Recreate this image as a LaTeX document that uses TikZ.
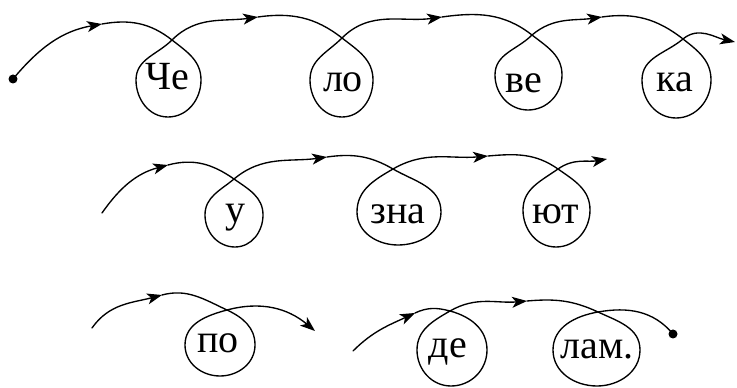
\documentclass[tikz,border=0pt]{standalone}
\usepackage{fontspec}
\setmainfont{Liberation Serif}
\usetikzlibrary{arrows.meta}
\begin{document}
\begin{tikzpicture}[x=1pt,y=1pt,
  line/.style={line width=1.35pt, line cap=round},
  arr/.style={line, -{Stealth[length=15pt,width=11pt,inset=4pt]}},
  syl/.style={inner sep=0pt, anchor=base, font=\fontsize{40}{44}\selectfont},
  enddot/.style={circle, fill, inner sep=0pt, minimum size=9pt}]
\useasboundingbox (0,0) rectangle (737,388);
% ---------- row 1 ----------
\node[enddot] (s0) at (13,309) {};
\coordinate (a1) at (102,364);
\coordinate (c1) at (172,348); \coordinate (r1) at (201,308); \coordinate (b1) at (168,271); \coordinate (l1) at (136,308);
\coordinate (a2) at (258,371);
\coordinate (c2) at (342,350); \coordinate (r2) at (373,308); \coordinate (b2) at (342,271); \coordinate (l2) at (310,308);
\coordinate (a3) at (442,371);
\coordinate (c3) at (532,353); \coordinate (r3) at (562,313); \coordinate (b3) at (528,278); \coordinate (l3) at (495,313);
\coordinate (a4) at (602,371);
\coordinate (c4) at (683,349); \coordinate (r4) at (711,308); \coordinate (b4) at (676,270); \coordinate (l4) at (642,308);
\coordinate (e1) at (735,346);
\node[syl] (t1) at (167,298) {Че};
\node[syl] (t2) at (343,296) {ло};
\node[syl] (t3) at (524,295) {ве};
\node[syl] (t4) at (675,296) {ка};
\draw[arr] (s0.center) to[out=50,in=190] (a1);
\draw[line] (a1) to[out=10,in=142] (c1) to[out=-38,in=90] (r1) to[out=-90,in=0] (b1) to[out=180,in=-90] (l1) to[out=90,in=-135] (c1);
\draw[arr] (c1) to[out=45,in=188] (a2);
\draw[line] (a2) to[out=8,in=142] (c2) to[out=-38,in=90] (r2) to[out=-90,in=0] (b2) to[out=180,in=-90] (l2) to[out=90,in=-135] (c2);
\draw[arr] (c2) to[out=45,in=188] (a3);
\draw[line] (a3) to[out=8,in=142] (c3) to[out=-38,in=90] (r3) to[out=-90,in=0] (b3) to[out=180,in=-90] (l3) to[out=90,in=-135] (c3);
\draw[arr] (c3) to[out=40,in=188] (a4);
\draw[line] (a4) to[out=8,in=142] (c4) to[out=-38,in=90] (r4) to[out=-90,in=0] (b4) to[out=180,in=-90] (l4) to[out=90,in=-140] (c4);
\draw[arr] (c4) to[out=40,in=168] (e1);
% ---------- row 2 ----------
\coordinate (s2) at (102,175);
\coordinate (a5) at (168,223);
\coordinate (c5) at (234,209); \coordinate (r5) at (263,173); \coordinate (b5) at (235,141); \coordinate (l5) at (205,173);
\coordinate (a6) at (327,231);
\coordinate (c6) at (393,219); \coordinate (r6) at (441,176); \coordinate (b6) at (398,143); \coordinate (l6) at (357,176);
\coordinate (a7) at (488,232);
\coordinate (c7) at (558,219); \coordinate (r7) at (590,178); \coordinate (b7) at (556,141); \coordinate (l7) at (523,178);
\coordinate (e2) at (607,229);
\node[syl] (t5) at (235,165) {у};
\node[syl] (t6) at (398,164) {зна};
\node[syl] (t7) at (556,164) {ют};
\draw[arr] (s2) to[out=55,in=195] (a5);
\draw[line] (a5) to[out=15,in=145] (c5) to[out=-35,in=90] (r5) to[out=-90,in=0] (b5) to[out=180,in=-90] (l5) to[out=90,in=-140] (c5);
\draw[arr] (c5) to[out=40,in=188] (a6);
\draw[line] (a6) to[out=8,in=150] (c6) to[out=-30,in=90] (r6) to[out=-90,in=0] (b6) to[out=180,in=-90] (l6) to[out=90,in=-150] (c6);
\draw[arr] (c6) to[out=30,in=185] (a7);
\draw[line] (a7) to[out=5,in=145] (c7) to[out=-35,in=90] (r7) to[out=-90,in=0] (b7) to[out=180,in=-90] (l7) to[out=90,in=-145] (c7);
\draw[arr] (c7) to[out=35,in=190] (e2);
% ---------- row 3 ----------
\coordinate (s3) at (92,60);
\coordinate (a8) at (162,93);
\coordinate (c8) at (227,78); \coordinate (r8) at (255,43); \coordinate (b8) at (220,12); \coordinate (l8) at (185,43);
\coordinate (e3) at (315,57);
\coordinate (s4) at (353,37);
\coordinate (a9) at (415,75);
\coordinate (c9) at (450,77); \coordinate (r9) at (487,38); \coordinate (b9) at (451,2); \coordinate (l9) at (417,38);
\coordinate (a10) at (527,87);
\coordinate (c10) at (598,76); \coordinate (r10) at (640,38); \coordinate (b10) at (597,2); \coordinate (l10) at (553,38);
\node[enddot] (d2) at (673,54) {};
\node[syl] (t8) at (218,35) {по};
\node[syl] (t9) at (448,30) {де};
\node[syl] (t10) at (597,29) {лам.};
\draw[arr] (s3) to[out=55,in=195] (a8);
\draw[line] (a8) to[out=15,in=155] (c8) to[out=-25,in=90] (r8) to[out=-90,in=0] (b8) to[out=180,in=-90] (l8) to[out=90,in=-165] (c8);
\draw[arr] (c8) to[out=15,in=140] (e3);
\draw[arr] (s4) to[out=45,in=205] (a9);
\draw[line] (a9) to[out=25,in=165] (c9) to[out=-15,in=90] (r9) to[out=-90,in=0] (b9) to[out=180,in=-90] (l9) to[out=90,in=-150] (c9);
\draw[arr] (c9) to[out=30,in=185] (a10);
\draw[line] (a10) to[out=5,in=155] (c10) to[out=-25,in=90] (r10) to[out=-90,in=0] (b10) to[out=180,in=-90] (l10) to[out=90,in=-170] (c10);
\draw[line] (c10) to[out=10,in=130] (d2.center);
\end{tikzpicture}
\end{document}
